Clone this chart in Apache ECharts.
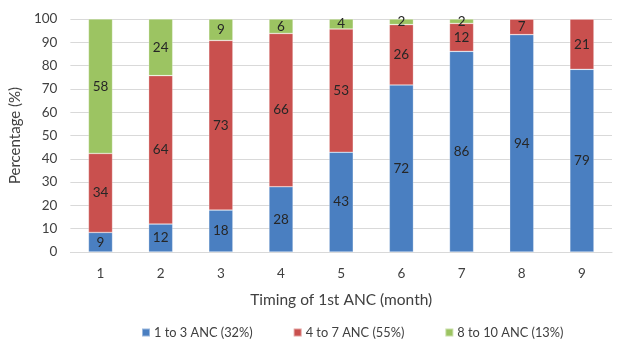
<!DOCTYPE html>
<html><head><meta charset="utf-8">
<script src="https://cdn.jsdelivr.net/npm/echarts@6/dist/echarts.min.js"></script>
<style>html,body{margin:0;padding:0;background:#fff}#c{width:620px;height:342px}</style>
</head><body><div id="c"></div>
<script>
const categories = ['1','2','3','4','5','6','7','8','9'];
const seriesNames = ['1 to 3 ANC (32%)','4 to 7 ANC (55%)','8 to 10 ANC (13%)'];
const low = [8.4, 12.0, 18.0, 28.0, 42.8, 71.7, 86.1, 93.3, 78.4];
const mid = [33.9, 63.7, 72.8, 65.8, 52.9, 25.9, 12.0, 6.7, 21.6];
const high = [57.7, 24.3, 9.2, 6.2, 4.3, 2.4, 1.9, 0, 0];
const lowLabels = [9, 12, 18, 28, 43, 72, 86, 94, 79];
const midLabels = [34, 64, 73, 66, 53, 26, 12, 7, 21];
const highLabels = [58, 24, 9, 6, 4, 2, 2, null, null];
const yTicks = [0,10,20,30,40,50,60,70,80,90,100];

const FONT = 'Lato';
const colors = ['#4A7FC1', '#C9504E', '#9CC462'];
function mk(name, data, labels, color) {
  return {
    name, type: 'bar', stack: 'a', data, barWidth: '40%',
    itemStyle: { color, borderColor: 'rgba(255,255,255,0.45)', borderWidth: 0.6 },
    label: {
      show: true, position: 'inside', color: '#262626', fontFamily: FONT, fontSize: 13.5,
      formatter: p => labels[p.dataIndex] == null ? '' : String(labels[p.dataIndex])
    }
  };
}
const chart = echarts.init(document.getElementById('c'));
chart.setOption({
  animation: false,
  color: colors,
  textStyle: { fontFamily: FONT },
  grid: { left: 67, right: 8, top: 19, bottom: 90, containLabel: false },
  legend: {
    left: 141, top: 326, padding: 0, itemWidth: 8, itemHeight: 8, itemGap: 40,
    icon: 'rect',
    textStyle: { fontFamily: FONT, fontSize: 12.8, color: '#404040', padding: [0,0,0,-1] },
    data: seriesNames
  },
  xAxis: {
    type: 'category', data: categories,
    name: 'Timing of 1st ANC (month)', nameLocation: 'middle', nameGap: 40,
    nameTextStyle: { fontFamily: FONT, fontSize: 15.5, color: '#404040' },
    axisLine: { lineStyle: { color: '#D9D9D9' } },
    axisTick: { show: false },
    axisLabel: { fontFamily: FONT, fontSize: 13.5, color: '#404040', margin: 15 }
  },
  yAxis: {
    type: 'value', min: 0, max: 100, interval: 10,
    name: 'Percentage (%)', nameLocation: 'middle', nameGap: 45, nameRotate: 90,
    nameTextStyle: { fontFamily: FONT, fontSize: 15, color: '#404040' },
    axisLine: { show: false }, axisTick: { show: false },
    axisLabel: { fontFamily: FONT, fontSize: 13.5, color: '#404040', margin: 13,
      formatter: v => yTicks.includes(v) ? String(v) : '' },
    splitLine: { lineStyle: { color: '#D9D9D9' } }
  },
  series: [
    mk(seriesNames[0], low, lowLabels, colors[0]),
    mk(seriesNames[1], mid, midLabels, colors[1]),
    mk(seriesNames[2], high, highLabels, colors[2])
  ]
});
</script></body></html>
